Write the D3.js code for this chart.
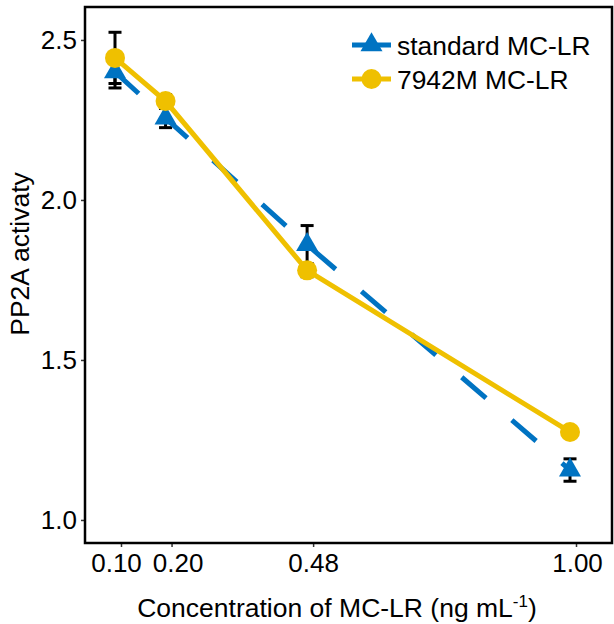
<!DOCTYPE html>
<html>
<head>
<meta charset="utf-8">
<script src="https://cdn.jsdelivr.net/npm/d3@7"></script>
<style>
  body { margin: 0; background: #fff; }
  text { font-family: "Liberation Sans", Arial, sans-serif; fill: #000; }
</style>
</head>
<body>
<svg id="chart" width="614" height="624"></svg>
<script>
// Concentrations and mean PP2A activity (with error) for the two MC-LR sources.
const conc = [0.10, 0.20, 0.48, 1.00];
const concLabels = ["0.10", "0.20", "0.48", "1.00"];
const standardMean = [2.40, 2.256, 1.86, 1.156];
const standardErr = [0.05, 0.03, 0.06, 0.035];
const m7942Mean = [2.444, 2.309, 1.78, 1.275];
const m7942Err = [0.08, 0.02, 0.02, 0.01];
const yTicks = [1.0, 1.5, 2.0, 2.5];
const seriesNames = ["standard MC-LR", "7942M MC-LR"];

const blue = "#0073C2", yellow = "#EFC000";

const svg = d3.select("#chart");
const margin = { left: 85, top: 7, right: 2, bottom: 81 };
const W = 614, H = 624;

// Points sit slightly left of their ticks (dodge), as in the original figure.
const dodge = -6;
// The two crowded tick labels are nudged apart.
const labelNudge = [-5, 6, 0, 1];

const x = d3.scaleLinear().domain([0.0288, 1.0712]).range([margin.left, W - margin.right]);
const y = d3.scaleLinear().domain([0.928, 2.603]).range([H - margin.bottom, margin.top]);

const series = [
  { name: seriesNames[0], mean: standardMean, err: standardErr, color: blue, shape: "tri", dash: "32,34" },
  { name: seriesNames[1], mean: m7942Mean, err: m7942Err, color: yellow, shape: "circle", dash: null }
];
series.forEach(s => {
  s.points = conc.map((c, i) => ({ c: c, v: s.mean[i], e: s.err[i] }));
});

// Axes
const xAxis = d3.axisBottom(x).tickValues(conc).tickFormat((d, i) => concLabels[i]).tickSize(4).tickPadding(6);
const yAxis = d3.axisLeft(y).tickValues(yTicks).tickFormat(d3.format(".1f")).tickSize(4).tickPadding(4);

const gx = svg.append("g").attr("transform", "translate(0," + (H - margin.bottom) + ")").call(xAxis);
const gy = svg.append("g").attr("transform", "translate(" + margin.left + ",0)").call(yAxis);
[gx, gy].forEach(g => {
  g.select(".domain").remove();
  g.selectAll(".tick line").attr("stroke", "#333").attr("stroke-width", 1.5);
  g.selectAll(".tick text").style("font-size", "26px").style("font-family", "Liberation Sans, Arial, sans-serif").attr("fill", "#000");
});
gx.selectAll(".tick text").attr("dy", "0.72em").attr("dx", (d, i) => labelNudge[i]);

// Panel border
svg.append("rect")
  .attr("x", margin.left).attr("y", margin.top)
  .attr("width", W - margin.right - margin.left)
  .attr("height", H - margin.bottom - margin.top)
  .attr("fill", "none").attr("stroke", "#000").attr("stroke-width", 2.5);

const plot = svg.append("g");

// Error bars
series.forEach(s => {
  const eb = plot.append("g").attr("stroke", "#000").attr("stroke-width", 3);
  s.points.forEach(p => {
    const px = x(p.c) + dodge;
    eb.append("line").attr("x1", px).attr("x2", px).attr("y1", y(p.v - p.e)).attr("y2", y(p.v + p.e));
    eb.append("line").attr("x1", px - 6.5).attr("x2", px + 6.5).attr("y1", y(p.v - p.e)).attr("y2", y(p.v - p.e));
    eb.append("line").attr("x1", px - 6.5).attr("x2", px + 6.5).attr("y1", y(p.v + p.e)).attr("y2", y(p.v + p.e));
  });
});

// Lines
const line = d3.line().x(d => x(d.c) + dodge).y(d => y(d.v));
series.forEach(s => {
  plot.append("path").datum(s.points)
    .attr("d", line)
    .attr("fill", "none")
    .attr("stroke", s.color)
    .attr("stroke-width", 5)
    .attr("stroke-dasharray", s.dash);
});

// Points
const tri = d3.symbol().type(d3.symbolTriangle).size(210);
series.forEach(s => {
  const g = plot.append("g");
  if (s.shape === "tri") {
    g.selectAll("path").data(s.points).enter().append("path")
      .attr("d", tri)
      .attr("transform", d => "translate(" + (x(d.c) + dodge) + "," + y(d.v) + ")")
      .attr("fill", s.color);
  } else {
    g.selectAll("circle").data(s.points).enter().append("circle")
      .attr("cx", d => x(d.c) + dodge).attr("cy", d => y(d.v)).attr("r", 10)
      .attr("fill", s.color);
  }
});

// Legend
const legend = svg.append("g").attr("transform", "translate(352,45)");
series.forEach((s, i) => {
  const row = legend.append("g").attr("transform", "translate(0," + (i * 34) + ")");
  row.append("line").attr("x1", 0).attr("x2", 39).attr("y1", 0).attr("y2", 0)
    .attr("stroke", s.color).attr("stroke-width", 5);
  if (s.shape === "tri") {
    row.append("path").attr("d", tri).attr("transform", "translate(19.5,0)").attr("fill", s.color);
  } else {
    row.append("circle").attr("cx", 19.5).attr("cy", 0).attr("r", 10).attr("fill", s.color);
  }
  row.append("text").attr("x", 45).attr("y", 0).attr("dy", "0.36em")
    .style("font-size", "26.4px").text(s.name);
});

// Axis titles
const xt = svg.append("text")
  .attr("x", 337).attr("y", 617)
  .attr("text-anchor", "middle")
  .style("font-size", "26.5px");
xt.append("tspan").text("Concentration of MC-LR (ng mL");
xt.append("tspan").attr("dy", -10).style("font-size", "17px").text("-1");
xt.append("tspan").attr("dy", 10).text(")");

svg.append("text")
  .attr("transform", "translate(29,254) rotate(-90)")
  .attr("text-anchor", "middle")
  .style("font-size", "26.5px")
  .text("PP2A activaty");
</script>
</body>
</html>
